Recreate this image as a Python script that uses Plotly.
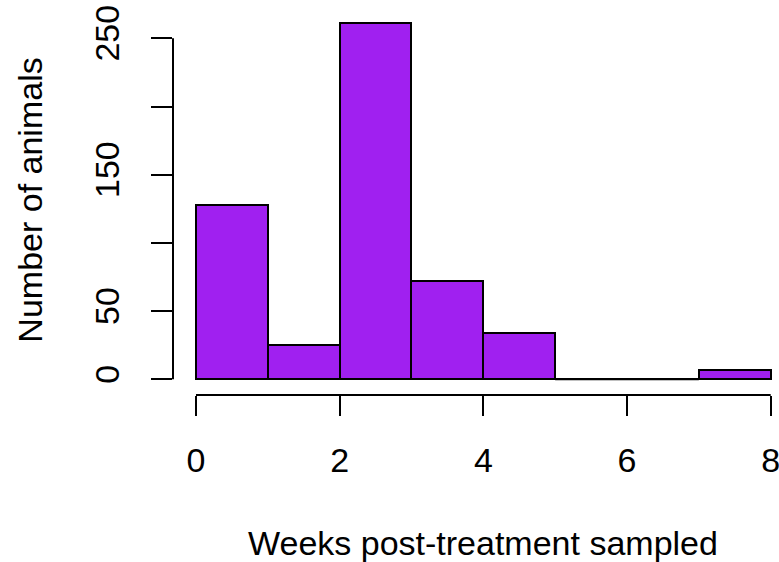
import plotly.graph_objects as go

# Histogram of sampling times (weekly bins)
bin_edges = [0, 1, 2, 3, 4, 5, 6, 7, 8]
counts = [128, 25, 261, 72, 34, 0, 0, 7]
x_ticks = [0, 2, 4, 6, 8]
y_ticks = [0, 50, 100, 150, 200, 250]
y_tick_text = ["0", "50", "", "150", "", "250"]

FONT = "Liberation Sans, Arial, sans-serif"
FILL = "#A020F0"
SIZE = 34

centers = [(a + b) / 2 for a, b in zip(bin_edges[:-1], bin_edges[1:])]
widths = [b - a for a, b in zip(bin_edges[:-1], bin_edges[1:])]

fig = go.Figure()
fig.add_trace(go.Bar(
    x=centers, y=counts, width=widths,
    marker=dict(color=FILL, line=dict(color="black", width=2)),
    showlegend=False, hoverinfo="x+y",
))

# empty bins are still outlined along the baseline
zx, zy = [], []
for a, b, c in zip(bin_edges[:-1], bin_edges[1:], counts):
    if c == 0:
        zx += [a, b, None]
        zy += [c, c, None]
fig.add_trace(go.Scatter(x=zx, y=zy, mode="lines",
                         line=dict(color="black", width=2),
                         showlegend=False, hoverinfo="skip"))

# detached axis lines spanning only the tick range
fig.add_shape(type="line", xref="x", yref="paper",
              x0=min(x_ticks), x1=max(x_ticks), y0=0, y1=0,
              line=dict(color="black", width=2))
fig.add_shape(type="line", xref="paper", yref="y",
              x0=0, x1=0, y0=min(y_ticks), y1=max(y_ticks),
              line=dict(color="black", width=2))

fig.add_annotation(text="Weeks post-treatment sampled", xref="x", yref="paper",
                   x=4, y=0, yanchor="middle", yshift=-148, showarrow=False,
                   font=dict(family=FONT, size=SIZE, color="black"))
fig.add_annotation(text="Number of animals", xref="paper", yref="y",
                   x=0, y=131, xanchor="center", xshift=-143, textangle=-90,
                   showarrow=False,
                   font=dict(family=FONT, size=SIZE, color="black"))

fig.update_layout(
    width=779, height=562,
    margin=dict(l=173, r=0, t=0, b=167),
    paper_bgcolor="white", plot_bgcolor="white",
    font=dict(family=FONT, size=SIZE, color="black"),
    bargap=0,
    xaxis=dict(range=[-0.32, 8.116], tickvals=x_ticks,
               ticks="outside", ticklen=20, tickwidth=2, tickcolor="black",
               showline=False, showgrid=False, zeroline=False,
               ticklabelstandoff=15, ticklabeloverflow="allow",
               tickfont=dict(family=FONT, size=SIZE, color="black")),
    yaxis=dict(range=[-11.5, 278.1], tickvals=y_ticks, ticktext=y_tick_text,
               ticks="outside", ticklen=21, tickwidth=2, tickcolor="black",
               tickangle=-90,
               showline=False, showgrid=False, zeroline=False,
               ticklabelstandoff=18, ticklabeloverflow="allow",
               tickfont=dict(family=FONT, size=SIZE, color="black")),
)

fig.write_html("out.html")
